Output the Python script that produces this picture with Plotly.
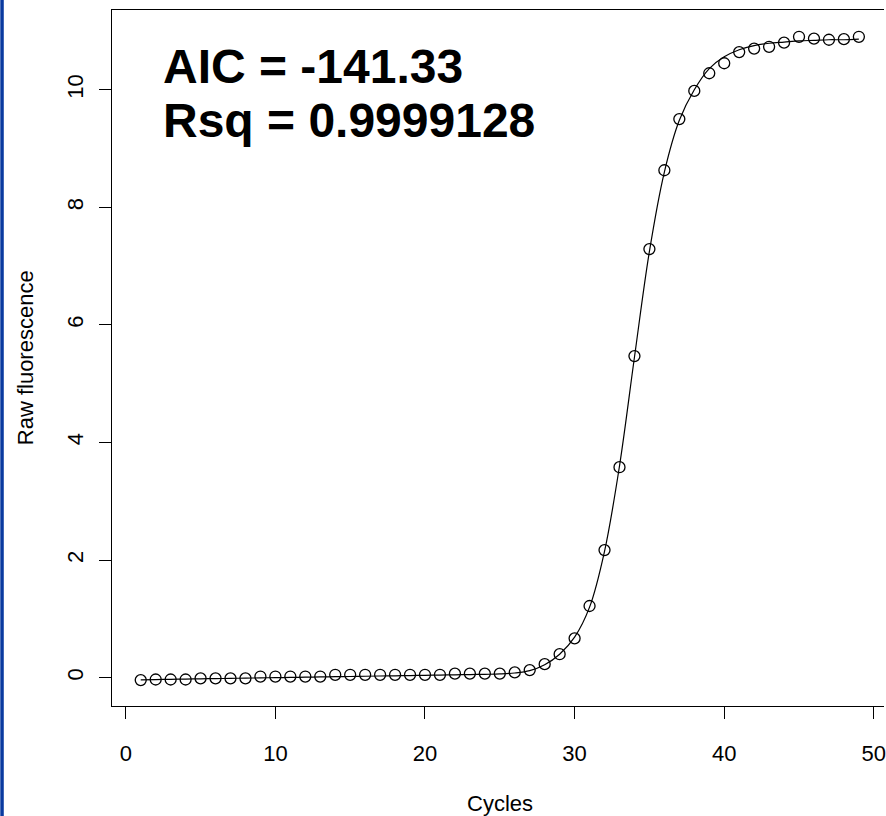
import plotly.graph_objects as go

# ---- data ----
cycles = list(range(1, 50))
raw_fluo = [-0.04, -0.03, -0.03, -0.03, -0.01, -0.01, -0.01, -0.01, 0.02, 0.02,
            0.02, 0.02, 0.02, 0.05, 0.05, 0.05, 0.05, 0.05, 0.05, 0.05,
            0.05, 0.07, 0.07, 0.07, 0.07, 0.09, 0.13, 0.23, 0.40, 0.67,
            1.22, 2.17, 3.58, 5.47, 7.29, 8.63, 9.50, 9.98, 10.28, 10.45,
            10.64, 10.70, 10.73, 10.80, 10.90, 10.87, 10.85, 10.86, 10.90]
fitted = [-0.035, -0.031, -0.027, -0.023, -0.019, -0.015, -0.011, -0.007, -0.003, 0.001,
          0.005, 0.009, 0.013, 0.017, 0.021, 0.025, 0.029, 0.033, 0.037, 0.041,
          0.045, 0.049, 0.053, 0.058, 0.064, 0.08, 0.12, 0.22, 0.40, 0.69,
          1.20, 2.15, 3.60, 5.45, 7.25, 8.60, 9.48, 10.00, 10.36, 10.56,
          10.68, 10.75, 10.79, 10.81, 10.83, 10.84, 10.85, 10.85, 10.86]
x_ticks = [0, 10, 20, 30, 40, 50]
y_ticks = [0, 2, 4, 6, 8, 10]
stat_lines = ["AIC = -141.33", "Rsq = 0.9999128"]

FONT = "Liberation Sans, Arial, Helvetica, sans-serif"
W, H = 886, 816
L, R, T, B = 112, 0, 10, 110
PW, PH = W - L - R, H - T - B

fig = go.Figure()
fig.add_trace(go.Scatter(x=cycles, y=fitted, mode="lines", line=dict(color="black", width=1.2, shape="spline"),
                         hoverinfo="skip", showlegend=False))
fig.add_trace(go.Scatter(x=cycles, y=raw_fluo, mode="markers",
                         marker=dict(symbol="circle-open", size=11, color="black", line=dict(width=1.3, color="black")),
                         showlegend=False))

def px_to_paper_x(px):
    return (px - L) / PW

def px_to_paper_y(py):
    return (H - B - py) / PH

annotations = []
# statistics text
for i, txt in enumerate(stat_lines):
    annotations.append(dict(text=f"<b>{txt}</b>", xref="paper", yref="paper",
                            x=px_to_paper_x(161), y=px_to_paper_y([67, 121][i]),
                            xanchor="left", yanchor="middle", showarrow=False,
                            font=dict(family=FONT, size=48, color="black")))
# axis titles
annotations.append(dict(text="Cycles", xref="paper", yref="paper",
                        x=px_to_paper_x(501), y=px_to_paper_y(803),
                        xanchor="center", yanchor="middle", showarrow=False,
                        font=dict(family=FONT, size=22, color="black")))
annotations.append(dict(text="Raw fluorescence", xref="paper", yref="paper",
                        x=px_to_paper_x(25), y=px_to_paper_y(358), textangle=-90,
                        xanchor="center", yanchor="middle", showarrow=False,
                        font=dict(family=FONT, size=22, color="black")))

shapes = [dict(type="rect", xref="paper", yref="paper",
               x0=px_to_paper_x(0), x1=px_to_paper_x(3.5),
               y0=px_to_paper_y(H), y1=px_to_paper_y(0),
               fillcolor="#0a3aa0", line=dict(width=0), layer="above")]

fig.update_layout(
    width=W, height=H, margin=dict(l=L, r=R, t=T, b=B, pad=0),
    paper_bgcolor="white", plot_bgcolor="white",
    font=dict(family=FONT, size=22, color="black"),
    annotations=annotations, shapes=shapes, showlegend=False,
    xaxis=dict(range=[-0.92, -0.92 + PW / 15.0], tickvals=x_ticks, ticks="outside", ticklen=12,
               tickwidth=1, tickcolor="black", showline=True, linecolor="black", linewidth=1,
               mirror=True, showgrid=False, zeroline=False, ticklabelstandoff=16,
               ticklabeloverflow="allow",
               tickfont=dict(family=FONT, size=22, color="black")),
    yaxis=dict(range=[-0.481, -0.481 + PH / 58.8], tickvals=y_ticks, ticks="outside", ticklen=12,
               tickwidth=1, tickcolor="black", showline=True, linecolor="black", linewidth=1,
               mirror=False, showgrid=False, zeroline=False, tickangle=-90, ticklabelstandoff=7,
               tickfont=dict(family=FONT, size=22, color="black")),
)

fig.write_html("out.html")
